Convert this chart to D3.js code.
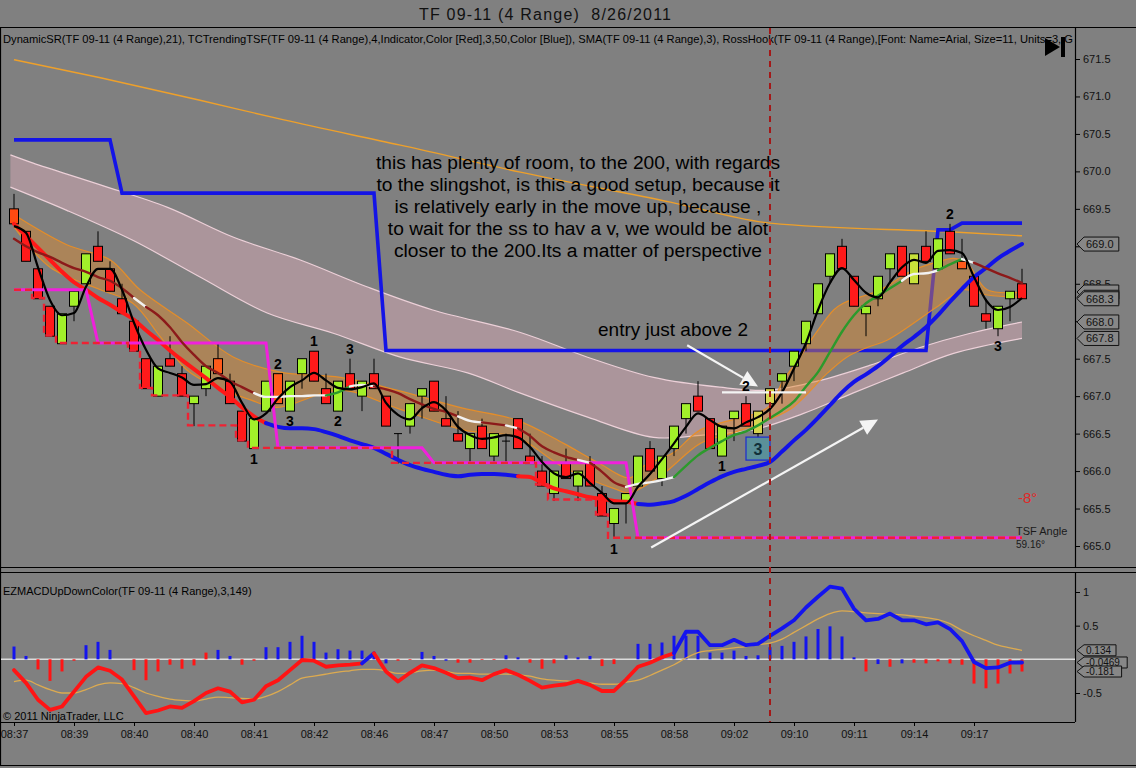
<!DOCTYPE html>
<html><head><meta charset="utf-8">
<script src="https://cdn.jsdelivr.net/npm/d3@7"></script>
<style>
body{margin:0;background:#808080;overflow:hidden}
svg{display:block;font-family:"Liberation Sans",Arial,sans-serif}
</style>
</head><body>
<svg id="c" width="1136" height="768"></svg>
<script>
// ---------------- DATA ----------------
const timeLabels = ["08:37","08:39","08:40","08:40","08:41","08:42","08:46","08:47","08:50","08:53","08:55","08:58","09:02","09:10","09:11","09:14","09:17"];
const timeTickBars = [0,5,10,15,20,25,30,35,40,45,50,55,60,65,70,75,80];
const priceTicks = [665.0,665.5,666.0,666.5,667.0,667.5,668.0,668.5,669.0,669.5,670.0,670.5,671.0,671.5];
const macdTicks = [1,0.5,-0.5];

const open = [669.5,669.2,668.7,668.2,667.7,668.2,668.5,669.0,668.7,668.3, 668.0,667.5,667.0,667.5,667.3,666.9,667.1,667.5,667.2,666.8, 666.3,666.8,667.3,666.8,667.3,667.6,667.1,666.8,667.3,667.0, 667.3,667.0,666.5,666.6,667.0,667.2,666.7,666.5,666.3,666.6, 666.2,666.4,666.7,666.2,666.0,665.7,666.1,665.8,666.1,665.7, 665.3,665.6,665.8,666.3,665.9,666.3,666.7,667.0,666.7,666.2, 666.7,666.9,666.5,666.9,667.2,667.4,667.7,668.1,668.6,669.0, 668.6,668.1,668.3,668.7,669.0,668.5,669.0,668.7,669.2,668.8, 668.6,668.1,667.9,668.3,668.5];
const high = [669.7,669.2,668.7,668.2,668.1,668.4,668.9,669.2,668.8,668.5, 668.0,667.5,667.4,667.8,667.4,667.0,667.4,667.7,667.3,666.8, 666.7,667.2,667.3,667.2,667.5,667.6,667.3,667.2,667.5,667.2, 667.5,667.0,666.5,666.9,667.1,667.2,667.0,666.8,666.5,666.7, 666.5,666.5,666.7,666.5,666.2,666.0,666.3,666.0,666.2,665.8, 665.5,665.7,666.2,666.4,666.2,666.6,666.9,667.2,666.7,666.6, 666.8,667.0,666.8,667.1,667.3,667.6,668.0,668.5,668.9,669.1, 668.6,668.2,668.6,668.9,669.0,668.9,669.2,669.1,669.3,669.1, 668.6,668.3,668.2,668.4,668.7];
const low = [669.3,668.8,668.3,667.8,667.7,668.0,668.5,668.8,668.4,668.1, 667.6,667.1,667.0,667.4,667.0,666.6,667.0,667.3,666.9,666.4, 666.3,666.8,666.9,666.8,667.1,667.2,666.9,666.8,667.1,666.8, 667.1,666.6,666.1,666.5,666.7,666.8,666.6,666.4,666.1,666.3, 666.1,666.1,666.3,666.1,665.8,665.6,665.9,665.6,665.8,665.4, 665.1,665.3,665.8,666.0,665.8,666.2,666.5,666.8,666.3,666.2, 666.4,666.6,666.4,666.7,666.9,667.2,667.6,668.1,668.5,668.7, 668.2,667.8,668.2,668.5,668.6,668.5,668.8,668.7,668.9,668.7, 668.2,667.9,667.8,668.0,668.3];
const close = [669.3,668.8,668.3,667.8,668.1,668.4,668.9,668.8,668.4,668.1, 667.6,667.1,667.4,667.4,667.0,667.0,667.4,667.3,666.9,666.4, 666.7,667.2,666.9,667.2,667.5,667.2,666.9,667.2,667.1,667.2, 667.1,666.6,666.5,666.9,667.1,666.8,666.6,666.4,666.5,666.3, 666.5,666.4,666.3,666.1,665.8,666.0,665.9,666.0,665.8,665.4, 665.5,665.7,666.2,666.0,666.2,666.6,666.9,666.8,666.3,666.6, 666.8,666.6,666.8,667.1,667.3,667.6,668.0,668.5,668.9,668.7, 668.2,668.2,668.6,668.9,668.6,668.9,668.8,669.1,668.9,668.7, 668.2,668.0,668.2,668.4,668.3];
const candleColorOverride = {0:"#ff4a12",17:"#ff5a1a",22:"#ff5a1a",62:"#d8d54e",63:"#d8d54e",75:"#c8e23a",79:"#ff5a1a"};

// SMA(3) black line
const sma3 = [669.27,669.18,668.72,668.28,668.08,668.11,668.46,668.70,668.70,668.42, 667.98,667.62,667.37,667.31,667.25,667.15,667.16,667.24,667.19,666.91, 666.69,666.77,666.97,667.12,667.21,667.31,667.21,667.11,667.09,667.12, 667.17,666.91,666.75,666.69,666.84,666.92,666.81,666.59,666.48,666.43, 666.45,666.48,666.45,666.32,666.12,665.97,665.92,665.97,665.84,665.71, 665.57,665.57,665.79,665.96,666.16,666.37,666.59,666.77,666.68,666.59, 666.57,666.65,666.72,666.83,667.05,667.37,667.71,668.15,668.51,668.71, 668.55,668.38,668.32,668.52,668.72,668.82,668.78,668.94,668.95,668.91, 668.59,668.28,668.15,668.19,668.31];
// TSF (maroon / white / green)
const tsf = [669.10,669.00,668.92,668.86,668.78,668.71,668.66,668.59,668.54,668.44, 668.31,668.19,668.08,667.92,667.72,667.55,667.40,667.31,667.20,667.12, 667.04,666.99,666.99,667.00,667.00,667.01,667.01,667.05,667.13,667.15, 667.13,667.09,667.04,666.96,666.89,666.83,666.79,666.73,666.67,666.65, 666.63,666.61,666.57,666.47,666.33,666.25,666.19,666.15,666.11,665.99, 665.85,665.79,665.83,665.85,665.88,665.92,666.07,666.21,666.31,666.40, 666.48,666.53,666.61,666.71,666.81,666.93,667.13,667.32,667.59,667.86, 668.08,668.24,668.34,668.44,668.54,668.63,668.64,668.68,668.76,668.83, 668.78,668.71,668.64,668.58,668.51];
const tsfColorRuns = [["m",11],["w",1],["m",9],["w",6],["g",2],["w",2],["m",7],["w",2],["m",2],["w",1],["m",5],["w",1],["m",3],["w",4],["g",19],["w",3],["g",2],["w",1],["m",4]];
// TCTrendingTSF indicator (thick red / blue)
const trend = [669.30,669.14,668.98,668.82,668.66,668.52,668.42,668.31,668.22,668.12, 668.02,667.88,667.75,667.61,667.48,667.36,667.24,667.11,666.99,666.85, 666.73,666.64,666.59,666.57,666.57,666.56,666.52,666.47,666.41,666.36, 666.31,666.23,666.15,666.08,666.03,665.99,665.95,665.93,665.95,665.96, 665.96,665.95,665.93,665.92,665.84,665.77,665.73,665.69,665.65,665.63, 665.60,665.59,665.56,665.55,665.57,665.60,665.67,665.76,665.85,665.93, 665.99,666.03,666.07,666.12,666.26,666.41,666.55,666.71,666.88,667.05, 667.19,667.29,667.40,667.53,667.67,667.79,667.92,668.08,668.26,668.43, 668.59,668.71,668.84,668.94,669.03];
const trendColorRuns = [["r",22],["b",21],["r",10],["b",32]];
// Dynamic S/R steps (value, number of bars)
const resistRuns = [[670.42,9],[669.71,22],[667.61,46],[669.22,2],[669.31,6]];
const magentaRuns = [[668.42,7],[667.71,15],[666.31,13],[666.11,17],[665.11,33]];
const supportRuns = [[668.42,2],[668.31,1],[667.81,1],[667.71,6],[667.61,1],[667.11,1],[667.01,3],[666.61,4],[666.41,1],[666.31,12],[666.11,12],[665.82,1],[665.62,4],[665.42,1],[665.11,35]];
// bands: [bar position, price]
const pinkTop = [[-0.3,670.22],[1.6,670.11],[7.2,669.82],[12.8,669.52],[18.3,669.12],[23.8,668.82],[29.4,668.46],[34.9,668.15],[42.2,667.85],[47.8,667.52],[53.3,667.25],[58.8,667.12],[63,667.08],[67.2,667.21],[71.3,667.41],[75.5,667.65],[79.7,667.84],[84,667.99]];
const pinkBot = [[-0.3,669.79],[4.4,669.48],[9.9,669.08],[15.5,668.59],[21.1,668.11],[26.6,667.84],[32.2,667.52],[37.8,667.31],[42.2,667.04],[47.8,666.72],[53.3,666.45],[57.4,666.48],[61.6,666.55],[65.8,666.77],[69.9,667.04],[74.1,667.31],[78.3,667.57],[84,667.77]];
const orangeUp = [[0,669.42],[4.4,669.02],[8,668.82],[10.5,668.42],[14.4,667.98],[18.3,667.52],[22.2,667.32],[27.2,667.25],[31.9,667.08],[37.4,666.84],[41.9,666.68],[45.8,666.37],[48.6,666.12],[51.3,665.91],[52.6,666.08],[54.9,666.24],[57.2,666.55],[62.8,666.85],[64.1,667.21],[65.5,667.52],[66.6,667.79],[68.3,668.15],[69.1,668.24],[72.2,668.42],[74.9,668.68],[76.9,668.79],[78.3,668.84],[79.4,668.78],[81.1,668.42],[84,668.39]];
const orangeLo = [[0,669.26],[3,668.72],[7.2,668.42],[9.9,668.24],[12.2,667.79],[14.4,667.35],[16.9,667.12],[19.7,666.95],[21.9,666.85],[27.2,667.08],[31.9,666.84],[37.4,666.55],[41.9,666.45],[45.8,666.05],[50.3,665.75],[51.3,665.71],[54,665.95],[57.2,666.37],[59.9,666.51],[62.8,666.68],[64.9,666.85],[67.8,667.31],[69.4,667.52],[71.1,667.65],[72.8,667.75],[76.9,668.19],[79.1,668.42],[81.1,668.35],[84,668.32]];
const sma200 = [[0,671.49],[7.2,671.25],[15.5,670.95],[22.4,670.69],[32.2,670.35],[42.2,669.99],[54.7,669.59],[63,669.31],[78.3,669.19],[84,669.14]];

// swing labels
const swingLabels = [
  {bar:20,text:"1",side:"below"},{bar:22,text:"2",side:"above"},{bar:23,text:"3",side:"below"},
  {bar:25,text:"1",side:"above"},{bar:27,text:"2",side:"below"},{bar:28,text:"3",side:"above"},
  {bar:50,text:"1",side:"below"},{bar:59,text:"1",side:"below"},{bar:61,text:"2",side:"above"},
  {bar:78,text:"2",side:"above"},{bar:82,text:"3",side:"below"}];
const boxLabel = {bar:62, price:666.3, text:"3"};
const markerBar = 63;
const entryLine = {from:59, to:66, price:667.05};
const arrows = [[56.1,667.68,62.0,667.13],[53.1,664.98,72.0,666.69]];

// MACD panel
const macd = [-0.16,-0.35,-0.60,-0.75,-0.70,-0.48,-0.26,-0.12,-0.17,-0.30, -0.55,-0.80,-0.76,-0.70,-0.72,-0.62,-0.50,-0.43,-0.48,-0.64, -0.60,-0.40,-0.31,-0.16,-0.01,-0.02,-0.11,-0.09,-0.08,-0.06, 0.09,-0.18,-0.33,-0.20,-0.09,-0.13,-0.20,-0.28,-0.27,-0.31, -0.22,-0.16,-0.23,-0.32,-0.42,-0.39,-0.37,-0.32,-0.38,-0.47, -0.47,-0.30,-0.11,-0.05,0.03,0.09,0.41,0.41,0.21,0.21, 0.29,0.21,0.23,0.35,0.46,0.58,0.77,0.93,1.08,1.05, 0.75,0.58,0.60,0.68,0.58,0.58,0.52,0.55,0.45,0.27, -0.04,-0.13,-0.12,-0.05,-0.0469];
const macdColorRuns = [["r",30],["b",1],["r",25],["b",29]];
const signal = [-0.33,-0.31,-0.38,-0.45,-0.50,-0.50,-0.45,-0.38,-0.35,-0.36, -0.42,-0.50,-0.55,-0.59,-0.61,-0.62,-0.59,-0.56,-0.57,-0.58, -0.59,-0.55,-0.48,-0.38,-0.28,-0.25,-0.22,-0.19,-0.17,-0.15, -0.15,-0.17,-0.21,-0.20,-0.17,-0.16,-0.18,-0.21,-0.21,-0.22, -0.22,-0.22,-0.23,-0.25,-0.29,-0.31,-0.32,-0.34,-0.35,-0.37, -0.37,-0.34,-0.31,-0.24,-0.16,-0.08,0.02,0.10,0.13,0.15, 0.17,0.19,0.22,0.24,0.30,0.40,0.50,0.60,0.68,0.72, 0.71,0.69,0.68,0.67,0.66,0.64,0.62,0.59,0.53,0.43, 0.35,0.28,0.21,0.17,0.134];
const hist = [0.19,0.05,-0.15,-0.32,-0.18,-0.02,0.21,0.26,0.14,0.00, -0.16,-0.31,-0.18,-0.08,-0.14,-0.09,0.10,0.14,0.05,-0.08, -0.02,0.18,0.18,0.26,0.35,0.26,0.10,0.15,0.13,0.13, 0.09,-0.06,-0.02,-0.01,0.11,0.05,-0.02,-0.05,-0.05,-0.01, -0.01,0.06,0.03,-0.05,-0.14,-0.06,0.06,0.03,0.05,-0.10, -0.07,0.00,0.23,0.23,0.25,0.35,0.35,0.35,0.10,0.10, 0.13,0.05,0.06,0.18,0.20,0.26,0.34,0.45,0.49,0.34, 0.03,-0.18,-0.07,-0.11,-0.06,-0.05,-0.06,-0.03,-0.06,-0.08, -0.36,-0.43,-0.36,-0.21,-0.181];
const histColorOverride = {16:"r",31:"b",36:"b",72:"b",74:"b"};

// ---------------- DRAW ----------------
const expand = runs => runs.flatMap(([v,n]) => Array(n).fill(v));
const resist = expand(resistRuns), magenta = expand(magentaRuns), support = expand(supportRuns);
const tsfCodes = expand(tsfColorRuns), trendCodes = expand(trendColorRuns), macdCodes = expand(macdColorRuns);
const bars = d3.range(open.length);

const W = 1136, H = 768, AX = 1075;
const svg = d3.select("#c");
const x = d3.scaleLinear().domain([0,84]).range([14,1022]);
const y = d3.scaleLinear().domain([665,671.5]).range([546,59]);
const y2 = d3.scaleLinear().domain([-0.5,1]).range([693,592]);

svg.append("rect").attr("width",W).attr("height",H).attr("fill","#808080");
const defs = svg.append("defs");
defs.append("clipPath").attr("id","cp1").append("rect").attr("x",1).attr("y",28).attr("width",AX-1).attr("height",539);
defs.append("clipPath").attr("id","cp2").append("rect").attr("x",1).attr("y",573).attr("width",AX-1).attr("height",149);

// title
svg.append("text").attr("x",419).attr("y",20).attr("font-size",16).attr("fill","#111")
  .attr("textLength",252).attr("lengthAdjust","spacing")
  .text("TF 09-11 (4 Range)\u00a0\u00a08/26/2011");

// frames
const fr = svg.append("g").attr("stroke","#000").attr("stroke-width",1.2).attr("fill","none");
fr.append("line").attr("x1",0).attr("x2",W).attr("y1",27.5).attr("y2",27.5);
fr.append("line").attr("x1",0.5).attr("x2",0.5).attr("y1",27).attr("y2",766);
fr.append("line").attr("x1",0).attr("x2",W).attr("y1",567.5).attr("y2",567.5);
fr.append("line").attr("x1",0).attr("x2",W).attr("y1",572.5).attr("y2",572.5);
fr.append("line").attr("x1",0).attr("x2",AX).attr("y1",722.5).attr("y2",722.5);
fr.append("line").attr("x1",0).attr("x2",W).attr("y1",765.5).attr("y2",765.5);
fr.append("line").attr("x1",AX+0.5).attr("x2",AX+0.5).attr("y1",27).attr("y2",567);
fr.append("line").attr("x1",AX+0.5).attr("x2",AX+0.5).attr("y1",572).attr("y2",722);

const g = svg.append("g").attr("clip-path","url(#cp1)");

function bandPath(top, bot, curve){
  const ln = d3.line().x(d=>x(d[0])).y(d=>y(d[1])).curve(curve);
  const a = ln(top), b = ln(bot.slice().reverse());
  return a + "L" + b.slice(1) + "Z";
}
const kLine = d3.line().x(d=>x(d[0])).y(d=>y(d[1])).curve(d3.curveMonotoneX);

// pink DynamicSR band
g.append("path").attr("d",bandPath(pinkTop,pinkBot,d3.curveCatmullRom)).attr("fill","#e8b2c0").attr("fill-opacity",0.42);
[pinkTop,pinkBot].forEach(k=>g.append("path").attr("d",d3.line().x(d=>x(d[0])).y(d=>y(d[1])).curve(d3.curveCatmullRom)(k))
  .attr("fill","none").attr("stroke","#ecd0d8").attr("stroke-width",1.2));
// 200 line
g.append("path").attr("d",kLine(sma200)).attr("fill","none").attr("stroke","#eea02a").attr("stroke-width",1.4);
// blue resistance step
g.append("path").attr("d",d3.line().x((d,i)=>x(i)).y(d=>y(d))(resist)).attr("fill","none").attr("stroke","#1414e6").attr("stroke-width",3.6);
// orange band
g.append("path").attr("d",bandPath(orangeUp,orangeLo,d3.curveCatmullRom)).attr("fill","#e08a2a").attr("fill-opacity",0.45);
[orangeUp,orangeLo].forEach(k=>g.append("path").attr("d",d3.line().x(d=>x(d[0])).y(d=>y(d[1])).curve(d3.curveCatmullRom)(k))
  .attr("fill","none").attr("stroke","#ec8e22").attr("stroke-width",1.2).attr("stroke-opacity",0.9));

// candles
const cg = g.append("g");
bars.forEach(i=>{
  const up = close[i] > open[i];
  const col = candleColorOverride[i] || (up ? "#a2f02a" : "#ff1a1a");
  cg.append("line").attr("x1",x(i)).attr("x2",x(i)).attr("y1",y(high[i])).attr("y2",y(low[i])).attr("stroke","#000").attr("stroke-width",1);
  if (open[i] === close[i]) {
    cg.append("line").attr("x1",x(i)-4).attr("x2",x(i)+4).attr("y1",y(open[i])).attr("y2",y(open[i])).attr("stroke","#000").attr("stroke-width",1);
  } else {
    const t = y(Math.max(open[i],close[i])), b = y(Math.min(open[i],close[i]));
    cg.append("rect").attr("x",x(i)-4.5).attr("y",t).attr("width",9).attr("height",b-t)
      .attr("fill",col).attr("stroke","#000").attr("stroke-width",1);
  }
});

function drawColored(grp, vals, codes, cmap, sy, width, curve){
  let start = 1;
  for (let i=2;i<=vals.length;i++){
    if (i===vals.length || codes[i]!==codes[start]) {
      const pts = d3.range(start-1,i).map(k=>[x(k), sy(vals[k])]);
      grp.append("path").attr("d",d3.line().curve(curve)(pts)).attr("fill","none")
        .attr("stroke",cmap[codes[start]]).attr("stroke-width",width).attr("stroke-linejoin","round").attr("stroke-linecap","round");
      start = i;
    }
  }
}
// thick trend line
drawColored(g, trend, trendCodes, {r:"#ff1818",b:"#1212e8"}, y, 4, d3.curveMonotoneX);
// magenta step
g.append("path").attr("d",d3.line().x((d,i)=>x(i)).y(d=>y(d))(magenta)).attr("fill","none").attr("stroke","#f020dc").attr("stroke-width",3);
// red dashed support
g.append("path").attr("d",d3.line().x((d,i)=>x(i)).y(d=>y(d)).curve(d3.curveStep)(support)).attr("fill","none")
  .attr("stroke","#ee2233").attr("stroke-width",2.4).attr("stroke-dasharray","7,4");
// TSF colored
drawColored(g, tsf, tsfCodes, {m:"#8c1a1a",w:"#f2f2f2",g:"#2c9a2c"}, y, 2.4, d3.curveMonotoneX);
// SMA 3 black
g.append("path").attr("d",d3.line().x((d,i)=>x(i)).y(d=>y(d)).curve(d3.curveMonotoneX)(sma3)).attr("fill","none")
  .attr("stroke","#000").attr("stroke-width",2.2);

// entry line
g.append("line").attr("x1",x(entryLine.from)).attr("x2",x(entryLine.to)).attr("y1",y(entryLine.price)).attr("y2",y(entryLine.price))
  .attr("stroke","#f4f4f4").attr("stroke-width",2.2);
// arrows
arrows.forEach(([b1,p1,b2,p2])=>{
  const X1=x(b1),Y1=y(p1),X2=x(b2),Y2=y(p2);
  const a=Math.atan2(Y2-Y1,X2-X1), L=17, Wd=8;
  const bx=X2-L*Math.cos(a), by=Y2-L*Math.sin(a);
  g.append("line").attr("x1",X1).attr("y1",Y1).attr("x2",bx).attr("y2",by).attr("stroke","#f4f4f4").attr("stroke-width",2.2);
  g.append("polygon").attr("points",[[X2,Y2],[bx+Wd*Math.sin(a),by-Wd*Math.cos(a)],[bx-Wd*Math.sin(a),by+Wd*Math.cos(a)]].map(p=>p.join(",")).join(" "))
    .attr("fill","#f4f4f4");
});
// box label
g.append("rect").attr("x",x(boxLabel.bar)-12).attr("y",y(boxLabel.price)-11.5).attr("width",24).attr("height",23)
  .attr("fill","#5b9099").attr("stroke","#1a2ad0").attr("stroke-width",1.2);
g.append("text").attr("x",x(boxLabel.bar)).attr("y",y(boxLabel.price)+6).attr("text-anchor","middle")
  .attr("font-size",16).attr("font-weight","bold").attr("fill","#10303a").text(boxLabel.text);
// swing labels
swingLabels.forEach(l=>{
  const yy = l.side==="above" ? y(high[l.bar]) - 5 : y(low[l.bar]) + 15;
  g.append("text").attr("x",x(l.bar)).attr("y",yy).attr("text-anchor","middle").attr("font-size",14).attr("font-weight","bold")
    .attr("fill","#000").text(l.text);
});

// annotation text
const note = ["this has plenty of room, to the 200, with regards","to the slingshot, is this a good setup, because it",
  "is relatively early in the move up, because ,","to wait for the ss to hav a v, we would be alot","closer to the 200.Its a matter of perspective"];
note.forEach((t,k)=>svg.append("text").attr("x",578).attr("y",169+k*22).attr("text-anchor","middle").attr("font-size",19.2).attr("fill","#000").text(t));
svg.append("text").attr("x",673).attr("y",336).attr("text-anchor","middle").attr("font-size",19).attr("fill","#000").text("entry just above 2");

svg.append("text").attr("x",1018).attr("y",503).attr("font-size",15).attr("fill","#e02828").text("-8°");
svg.append("text").attr("x",1016).attr("y",535).attr("font-size",11).attr("fill","#1a1a1a").text("TSF Angle");
svg.append("text").attr("x",1016).attr("y",548).attr("font-size",10).attr("fill","#1a1a1a").text("59.16°");

// header line text
svg.append("text").attr("x",3).attr("y",43).attr("font-size",11).attr("fill","#000")
  .attr("textLength",1070).attr("lengthAdjust","spacingAndGlyphs")
  .text("DynamicSR(TF 09-11 (4 Range),21), TCTrendingTSF(TF 09-11 (4 Range),4,Indicator,Color [Red],3,50,Color [Blue]), SMA(TF 09-11 (4 Range),3), RossHook(TF 09-11 (4 Range),[Font: Name=Arial, Size=11, Units=3, G");
// play icon
svg.append("polygon").attr("points","1045,38 1045,56 1060,47").attr("fill","#000");
svg.append("rect").attr("x",1061).attr("y",37).attr("width",4).attr("height",20).attr("fill","#000");

// ---------- MACD panel ----------
const g2 = svg.append("g").attr("clip-path","url(#cp2)");
g2.append("line").attr("x1",1).attr("x2",AX).attr("y1",y2(0)).attr("y2",y2(0)).attr("stroke","#dcdcdc").attr("stroke-width",1.5);
bars.forEach(i=>{
  const v = hist[i]; if (v===0) return;
  const code = histColorOverride[i] || (v>0 ? "b" : "r");
  g2.append("rect").attr("x",x(i)-1.5).attr("width",3).attr("y",Math.min(y2(0),y2(v))).attr("height",Math.abs(y2(v)-y2(0)))
    .attr("fill",code==="b"?"#1414ee":"#ff1414");
});
g2.append("path").attr("d",d3.line().x((d,i)=>x(i)).y(d=>y2(d)).curve(d3.curveMonotoneX)(signal)).attr("fill","none")
  .attr("stroke","#dcaa50").attr("stroke-width",1.3);
drawColored(g2, macd, macdCodes, {r:"#ff1414",b:"#1414ee"}, y2, 3.8, d3.curveLinear);
svg.append("text").attr("x",3).attr("y",595).attr("font-size",11).attr("fill","#000").text("EZMACDUpDownColor(TF 09-11 (4 Range),3,149)");
svg.append("text").attr("x",3).attr("y",720).attr("font-size",11).attr("fill","#000").text("© 2011 NinjaTrader, LLC");

// vertical marker
svg.append("line").attr("x1",x(markerBar)).attr("x2",x(markerBar)).attr("y1",28).attr("y2",722)
  .attr("stroke","#a41818").attr("stroke-width",2).attr("stroke-dasharray","6,5");

// ---------- value tags ----------
const f1 = d3.format(".1f");
const priceTagVals = [trend[84], orangeUp[orangeUp.length-1][1], orangeLo[orangeLo.length-1][1], close[84], pinkTop[pinkTop.length-1][1], pinkBot[pinkBot.length-1][1]];
const priceTagShowText = [true,false,false,true,true,true];
const macdTagVals = [signal[84], macd[84], hist[84]];

// ---------- axes ----------
function styleAxis(sel){
  sel.select(".domain").remove();
  sel.selectAll(".tick line").attr("stroke","#000");
  sel.selectAll(".tick text").attr("fill","#111").attr("font-size",11).attr("font-family","Liberation Sans, Arial, sans-serif");
}
const ay = svg.append("g").attr("transform",`translate(${AX},0)`)
  .call(d3.axisRight(y).tickValues(priceTicks).tickSize(5).tickPadding(3).tickFormat(d3.format(".1f"))).call(styleAxis);
ay.selectAll(".tick text").filter(d=>priceTagVals.some(v=>Math.abs(y(v)-y(d))<5)).remove();
svg.append("g").attr("transform",`translate(${AX},0)`)
  .call(d3.axisRight(y2).tickValues(macdTicks).tickSize(5).tickPadding(3).tickFormat(d=>String(d))).call(styleAxis);
svg.append("g").attr("transform","translate(0,722)")
  .call(d3.axisBottom(x).tickValues(timeTickBars).tickSize(4).tickPadding(4).tickFormat((d,i)=>timeLabels[i])).call(styleAxis);

function tag(yy, txt, show, h, fs){
  const w = txt.length*(fs*0.56)+4;
  svg.append("path").attr("d",`M${AX+2},${yy} L${AX+9},${yy-h/2} L${AX+9+w},${yy-h/2} L${AX+9+w},${yy+h/2} L${AX+9},${yy+h/2} Z`)
    .attr("fill","#878787").attr("stroke","#111").attr("stroke-width",1);
  if (show) svg.append("text").attr("x",AX+11).attr("y",yy+fs*0.36).attr("font-size",fs).attr("fill","#111").text(txt);
}
priceTagVals.forEach((v,k)=>tag(y(v), f1(v), priceTagShowText[k], 14, 11));
macdTagVals.forEach(v=>tag(y2(v), String(v), true, 11, 10));
</script>
</body></html>
